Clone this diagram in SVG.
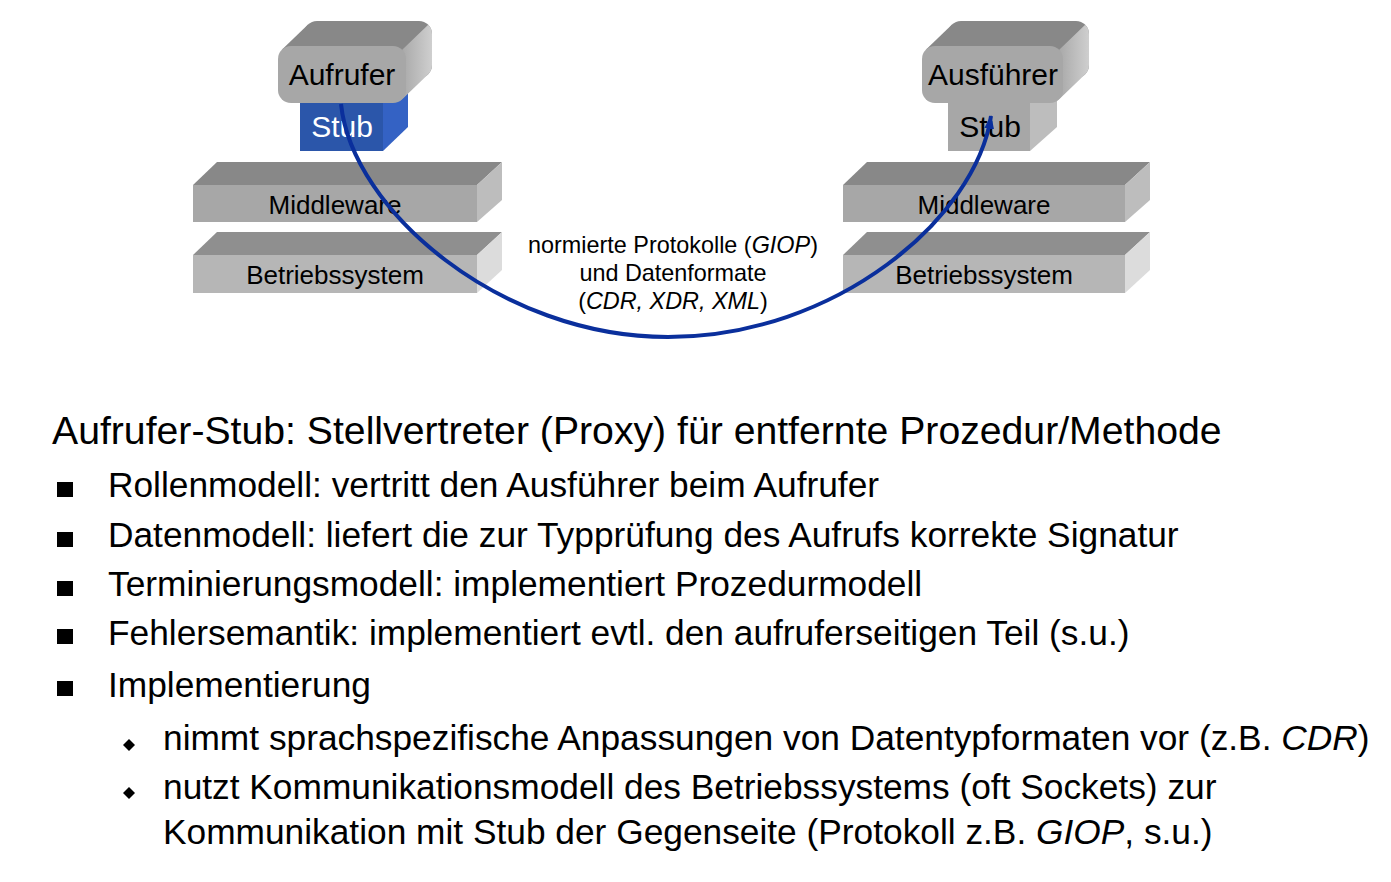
<svg xmlns="http://www.w3.org/2000/svg" width="1391" height="882" viewBox="0 0 1391 882">
<style>
text{font-family:"Liberation Sans",Arial,sans-serif;fill:#000}
.box{font-size:30px;text-anchor:middle}
.slab{font-size:26px;text-anchor:middle}
.lbl{font-size:23.4px;text-anchor:middle}
.title{font-size:39.2px}
.item{font-size:35.3px}
.top{fill:#888888}
.front{fill:#a7a7a7}
.side{fill:#bdbdbd}
.rside{fill:url(#sideGrad)}
.top2{fill:#8f8f8f}
.front2{fill:#b6b6b6}
.side2{fill:#dcdcdc}
.conn{fill:none;stroke:#0a2f9c;stroke-width:4}
</style>
<defs>
<linearGradient id="sideGrad" x1="0" y1="0" x2="1" y2="0">
<stop offset="0" stop-color="#a9a9a9"/>
<stop offset="1" stop-color="#cfcfcf"/>
</linearGradient>
<marker id="ah" markerUnits="userSpaceOnUse" viewBox="0 0 14 10" refX="13" refY="5" markerWidth="14" markerHeight="10" orient="auto">
<path d="M0,0 L14,5 L0,10 Z" fill="#0a2f9c"/>
</marker>
</defs>
<rect width="1391" height="882" fill="#fff"/>

<g id="left-betriebssystem">
<polygon class="top2" points="193,255 217,232 502,232 477,255"/>
<polygon class="side2" points="477,255 502,232 502,270 477,293"/>
<rect class="front2" x="193" y="255" width="284" height="38"/>
<text class="slab" x="335" y="284">Betriebssystem</text>
</g>
<g id="left-middleware">
<polygon class="top" points="193,185 217,162 502,162 477,185"/>
<polygon class="side" points="477,185 502,162 502,200 477,222"/>
<rect class="front" x="193" y="185" width="284" height="37"/>
<text class="slab" x="335" y="214">Middleware</text>
</g>
<g id="left-stub">
<polygon fill="#3462c4" points="383,100 408,76 408,127 383,151"/>
<rect fill="#2b56aa" x="300" y="98" width="83" height="53"/>
<text class="box" x="342" y="137" style="fill:#fff">Stub</text>
</g>
<g id="aufrufer">
<rect class="top" x="304" y="21" width="128" height="57" rx="13"/>
<polygon class="top" points="281.8,49.8 307.8,24.8 428.2,24.8 402.2,49.8"/>
<path class="rside" d="M402.2,49.8 L428.2,24.8 A13,13 0 0 1 432,34 L432,65 A13,13 0 0 1 428.2,74.2 L402.2,99.2 Z"/>
<rect class="front" x="278" y="46" width="128" height="57" rx="13"/>
<text class="box" x="342" y="85">Aufrufer</text>
</g>

<g id="right-betriebssystem">
<polygon class="top2" points="843,255 867,232 1150,232 1125,255"/>
<polygon class="side2" points="1125,255 1150,232 1150,270 1125,293"/>
<rect class="front2" x="843" y="255" width="282" height="38"/>
<text class="slab" x="984" y="284">Betriebssystem</text>
</g>
<g id="right-middleware">
<polygon class="top" points="843,185 867,162 1150,162 1125,185"/>
<polygon class="side" points="1125,185 1150,162 1150,200 1125,222"/>
<rect class="front" x="843" y="185" width="282" height="37"/>
<text class="slab" x="984" y="214">Middleware</text>
</g>
<g id="right-stub">
<polygon class="side" points="1030,100 1057,76 1057,127 1030,151"/>
<rect class="front" x="948" y="98" width="82" height="53"/>
<text class="box" x="990" y="137">Stub</text>
</g>
<g id="ausfuehrer">
<rect class="top" x="948" y="21" width="141" height="57" rx="13"/>
<polygon class="top" points="925.8,49.8 951.8,24.8 1085.2,24.8 1059.2,49.8"/>
<path class="rside" d="M1059.2,49.8 L1085.2,24.8 A13,13 0 0 1 1089,34 L1089,65 A13,13 0 0 1 1085.2,74.2 L1059.2,99.2 Z"/>
<rect class="front" x="922" y="46" width="141" height="57" rx="13"/>
<text class="box" x="993" y="85">Ausführer</text>
</g>

<g id="connectors">
<path class="conn" d="M341,104 C352,210 500,337 668,337 C836,337 976,218 991,116" marker-end="url(#ah)"/>
</g>

<g id="protocol-label">
<text class="lbl" x="673" y="253">normierte Protokolle (<tspan font-style="italic">GIOP</tspan>)</text>
<text class="lbl" x="673" y="281">und Datenformate</text>
<text class="lbl" x="673" y="309">(<tspan font-style="italic">CDR, XDR, XML</tspan>)</text>
</g>

<g id="text-body">
<text class="title" x="52" y="444">Aufrufer-Stub: Stellvertreter (Proxy) für entfernte Prozedur/Methode</text>
<rect x="57" y="482" width="16" height="15"/>
<text class="item" x="108" y="497">Rollenmodell: vertritt den Ausführer beim Aufrufer</text>
<rect x="57" y="532" width="16" height="15"/>
<text class="item" x="108" y="547">Datenmodell: liefert die zur Typprüfung des Aufrufs korrekte Signatur</text>
<rect x="57" y="581" width="16" height="15"/>
<text class="item" x="108" y="596">Terminierungsmodell: implementiert Prozedurmodell</text>
<rect x="57" y="629" width="16" height="15"/>
<text class="item" x="108" y="645">Fehlersemantik: implementiert evtl. den aufruferseitigen Teil (s.u.)</text>
<rect x="57" y="681" width="16" height="15"/>
<text class="item" x="108" y="697">Implementierung</text>
<polygon points="129,739 135,745 129,751 123,745"/>
<text class="item" x="163" y="750">nimmt sprachspezifische Anpassungen von Datentypformaten vor (z.B. <tspan font-style="italic">CDR</tspan>)</text>
<polygon points="129,787 135,793 129,799 123,793"/>
<text class="item" x="163" y="799">nutzt Kommunikationsmodell des Betriebssystems (oft Sockets) zur</text>
<text class="item" x="163" y="844">Kommunikation mit Stub der Gegenseite (Protokoll z.B. <tspan font-style="italic">GIOP</tspan>, s.u.)</text>
</g>
</svg>
